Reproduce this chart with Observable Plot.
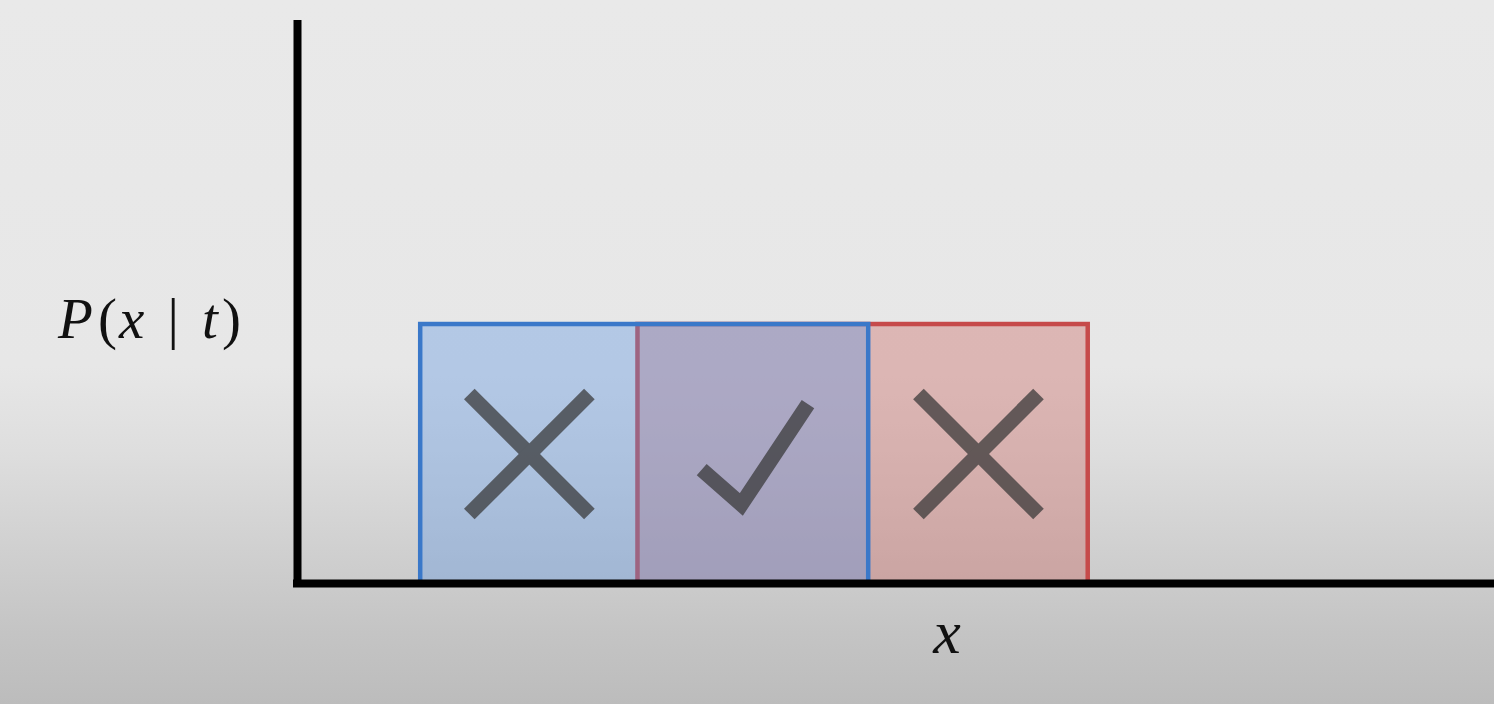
<!DOCTYPE html>
<html>
<head>
<meta charset="utf-8">
<script src="https://cdn.jsdelivr.net/npm/d3@7"></script>
<script src="https://cdn.jsdelivr.net/npm/@observablehq/plot@0.6"></script>
<style>
  html, body { margin: 0; padding: 0; width: 1494px; height: 704px; overflow: hidden; }
  body {
    background: linear-gradient(to bottom, #e9e9e9 0%, #e7e7e7 52%, #dedede 64%, #d0d0d0 78%, #c4c4c4 90%, #bcbcbc 100%);
  }
  #chart svg { display: block; }
</style>
</head>
<body>
<div id="chart"></div>
<script>
// ---- data ----
const binNames = ["blue", "red"];
const binStart = [0.55, 1.52];
const binEnd = [2.55, 3.53];
const binHeight = [0.46, 0.46];
const regionVerdicts = ["wrong", "right", "wrong"];
const yLabelText = "P(x | t)";
const xLabelText = "x";

// ---- styles ----
const fillColors = {blue: "#5a94e2", red: "#cb625c"};
const strokeColors = {blue: "#3a78c9", red: "#c64a4a"};

const bins = binNames.map((name, i) => ({name, x1: binStart[i], x2: binEnd[i], p: binHeight[i]}));
// draw red first, blue on top
const drawOrder = [bins[1], bins[0]];

// regions: left only, overlap, right only
const edges = [binStart[0], binStart[1], binEnd[0], binEnd[1]];
const regions = regionVerdicts.map((v, i) => ({verdict: v, cx: (edges[i] + edges[i + 1]) / 2, cy: binHeight[0] / 2}));

// glyph shapes in normalized units
const glyphShapes = {
  wrong: [[[-1, 1], [1, -1]], [[-1, -1], [1, 1]]],
  right: [[[-0.86, -0.26], [-0.2, -0.84], [0.91, 0.83]]]
};
const gx = 0.268, gy = 0.1066;
const glyphPts = [];
regions.forEach((r, ri) => {
  glyphShapes[r.verdict].forEach((seg, si) => {
    seg.forEach(([u, v]) => glyphPts.push({x: r.cx + u * gx, y: r.cy + v * gy, z: ri + "-" + si}));
  });
});

const chart = Plot.plot({
  width: 1494,
  height: 704,
  marginLeft: 297,
  marginRight: 0,
  marginTop: 20,
  marginBottom: 121,
  style: {background: "transparent", overflow: "visible"},
  x: {domain: [0, 1197 / 224], axis: null},
  y: {domain: [0, 1], axis: null},
  marks: [
    Plot.rect(drawOrder, {
      x1: "x1", x2: "x2", y1: 0, y2: "p",
      fill: d => fillColors[d.name], fillOpacity: 0.36,
      stroke: d => strokeColors[d.name], strokeWidth: 4.5
    }),
    Plot.line(glyphPts, {
      x: "x", y: "y", z: "z",
      stroke: "#363636", strokeWidth: 15,
      strokeLinecap: "butt", strokeLinejoin: "miter", strokeMiterlimit: 10, curve: "linear"
    }),
    Plot.ruleX([0], {y1: 0, y2: 1, stroke: "black", strokeWidth: 8}),
    Plot.ruleY([0], {stroke: "black", strokeWidth: 8, strokeLinecap: "square"}),
    Plot.text([binHeight[0]], {
      x: 0, y: d => d, text: () => yLabelText, dx: -148, dy: -5,
      fontSize: 57, fontFamily: "Liberation Serif", fill: "#111", textAnchor: "middle"
    }),
    Plot.text([0], {
      x: 2.9, y: d => d, text: () => xLabelText, dy: 50,
      fontSize: 62, fontFamily: "Liberation Serif", fontStyle: "italic", fill: "#111", textAnchor: "middle"
    })
  ]
});
document.getElementById("chart").appendChild(chart);

// glyph group translucency as a whole (no darker crossings)
d3.select(chart).selectAll("g[aria-label='line']").attr("opacity", 0.72);

// style the y label with mixed italic / upright parts (text content is unchanged)
d3.select(chart).selectAll("text").each(function() {
  if (this.textContent === yLabelText) {
    const t = d3.select(this);
    t.text(null);
    const parts = [["P", true, 0], ["(", false, 5], ["x", true, 2], [" | ", false, 9], ["t", true, 9], [")", false, 4]];
    parts.forEach(([s, it, dx]) => t.append("tspan").attr("font-style", it ? "italic" : "normal").attr("dx", dx).text(s));
  }
});
</script>
</body>
</html>
